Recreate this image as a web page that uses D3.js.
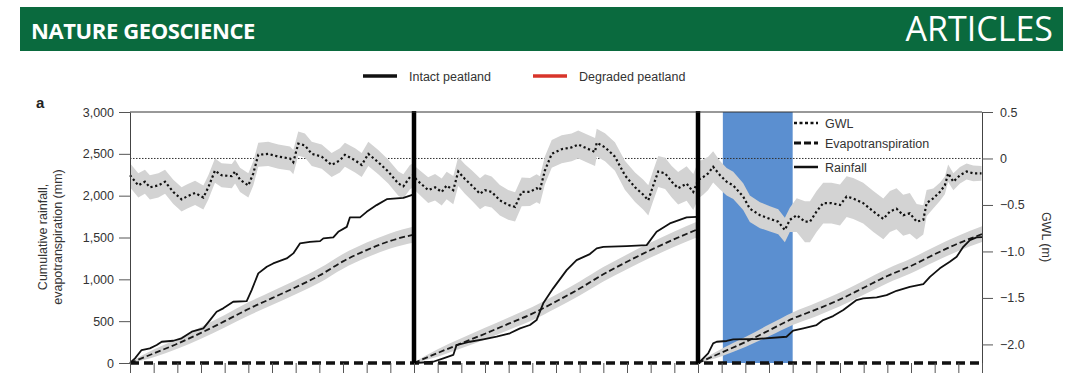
<!DOCTYPE html>
<html><head><meta charset="utf-8">
<script src="https://cdn.jsdelivr.net/npm/d3@7"></script>
<style>
html,body{margin:0;padding:0;background:#fff;}
svg{display:block;font-family:"Liberation Sans",Arial,sans-serif;}
</style></head>
<body><svg id="c" width="1080" height="382"></svg>
<script>
// ---------- DATA ----------
const monthTicks = d3.range(0, 37);
const yearBreaks = [12, 24];
const shadedPeriod = [25.05, 28.0];
const leftTicks = [0, 500, 1000, 1500, 2000, 2500, 3000];
const rightTicks = [0.5, 0, -0.5, -1.0, -1.5, -2.0];
const legendTop = ["Intact peatland", "Degraded peatland"];
const legendInner = ["GWL", "Evapotranspiration", "Rainfall"];

// groundwater level (m), [month, value]
const gwl = [
 [0.00,-0.18],[0.35,-0.29],[0.63,-0.25],[0.84,-0.31],[1.20,-0.29],[1.48,-0.25],[1.83,-0.36],[2.18,-0.44],
 [2.40,-0.41],[2.75,-0.37],[3.10,-0.42],[3.31,-0.31],[3.59,-0.13],[3.87,-0.18],[4.30,-0.19],[4.44,-0.14],
 [4.65,-0.23],[5.00,-0.29],[5.21,-0.16],[5.42,0.04],[5.84,0.05],[6.27,0.02],[6.76,0.00],[6.90,-0.04],
 [7.11,0.16],[7.39,0.14],[7.68,0.05],[8.10,0.02],[8.52,-0.07],[8.87,-0.02],[9.08,0.04],[9.51,-0.02],
 [9.79,-0.07],[10.07,0.05],[10.49,-0.04],[10.91,-0.14],[11.34,-0.27],[11.55,-0.30],[11.83,-0.20],[11.97,-0.18],
 [12.11,-0.23],[12.60,-0.34],[12.89,-0.31],[13.17,-0.36],[13.38,-0.29],[13.66,-0.34],[13.87,-0.14],[14.15,-0.22],
 [14.44,-0.29],[14.79,-0.38],[15.00,-0.34],[15.28,-0.36],[15.63,-0.45],[15.98,-0.50],[16.27,-0.52],[16.55,-0.36],
 [16.90,-0.36],[17.18,-0.32],[17.32,-0.34],[17.53,-0.13],[17.82,0.05],[18.24,0.10],[18.66,0.12],[18.94,0.15],
 [19.29,0.11],[19.65,0.07],[19.72,0.17],[20.07,0.12],[20.49,0.02],[20.91,-0.18],[21.34,-0.31],[21.69,-0.39],
 [21.90,-0.45],[22.11,-0.29],[22.32,-0.14],[22.61,-0.16],[22.89,-0.25],[23.16,-0.32],[23.52,-0.27],[23.80,-0.36],
 [24.01,-0.23],[24.22,-0.20],[24.43,-0.16],[24.64,-0.09],[24.93,-0.18],[25.21,-0.25],[25.49,-0.29],[25.91,-0.41],
 [26.19,-0.54],[26.62,-0.61],[27.04,-0.65],[27.39,-0.68],[27.67,-0.77],[27.88,-0.66],[28.17,-0.61],[28.52,-0.68],
 [28.73,-0.68],[29.01,-0.57],[29.29,-0.48],[29.64,-0.48],[30.00,-0.50],[30.28,-0.41],[30.56,-0.43],[30.98,-0.48],
 [31.41,-0.57],[31.83,-0.65],[32.11,-0.57],[32.39,-0.54],[32.67,-0.61],[32.95,-0.59],[33.24,-0.68],[33.52,-0.66],
 [33.66,-0.48],[33.94,-0.43],[34.22,-0.36],[34.43,-0.29],[34.57,-0.16],[34.79,-0.25],[35.07,-0.18],[35.35,-0.14],
 [35.63,-0.16],[35.98,-0.16]
];
// GWL uncertainty half-width (m) at breakpoints [month, value]
const gwlSpread = [[0,0.13],[12,0.13],[15,0.17],[17,0.15],[20,0.15],[23,0.17],[24,0.2],[25,0.15],[28,0.13],[28.3,0.22],[33,0.22],[34,0.1],[36,0.08]];

// cumulative rainfall (mm), [month, value], one array per year
const rain1 = [[0,0],[0.21,56],[0.49,155],[0.84,175],[1.13,215],[1.34,254],[1.83,266],[2.18,295],[2.61,374],[3.10,414],
 [3.38,513],[3.66,613],[3.94,653],[4.36,732],[4.93,740],[5.14,872],[5.42,1071],[5.78,1150],[6.05,1190],[6.62,1250],
 [6.90,1310],[7.18,1429],[7.60,1448],[8.03,1457],[8.17,1489],[8.59,1501],[8.80,1568],[9.16,1627],[9.29,1740],[9.72,1740],
 [10.00,1807],[10.42,1887],[10.85,1958],[11.55,1974],[11.90,2006],[11.97,2020]];
const rain2 = [[12.04,0],[12.81,15],[13.24,56],[13.66,96],[13.80,215],[14.36,254],[14.93,283],[15.49,314],[16.05,355],
 [16.48,414],[16.90,454],[17.18,513],[17.46,713],[17.88,892],[18.45,1110],[18.87,1230],[19.43,1302],[19.72,1370],
 [20.00,1389],[20.98,1397],[21.83,1409],[22.25,1568],[22.81,1668],[23.52,1740],[23.95,1747]];
const rain3 = [[24.04,0],[24.08,15],[24.43,116],[24.64,235],[24.79,254],[25.21,263],[25.49,283],[26.48,287],[27.74,314],
 [28.02,386],[28.45,414],[29.01,454],[29.29,513],[29.71,561],[30.14,633],[30.70,752],[30.98,772],[31.55,784],[31.97,812],
 [32.39,863],[32.95,911],[33.52,943],[33.80,1030],[34.22,1131],[34.64,1210],[34.93,1270],[35.21,1389],[35.49,1469],
 [35.77,1501],[36.0,1505]];

// cumulative evapotranspiration (mm), monthly, one array per year
const et1 = [0,115,230,360,500,645,775,905,1045,1215,1350,1460,1535];
const et2 = [0,120,235,350,470,590,735,890,1060,1210,1350,1480,1600];
const et3 = [0,125,250,390,530,640,760,900,1040,1160,1300,1430,1540];
// ET uncertainty half-width (mm) by month within a year
const etSpread = [10,45,60,70,75,80,82,84,86,88,90,92,95];

// zero line series (thick dashed)
const baseline = [[0,0],[36,0]];

// ---------- LAYOUT ----------
const svg = d3.select("#c");
const x = d3.scaleLinear().domain([0,36]).range([130,982]);
const yL = d3.scaleLinear().domain([0,3000]).range([363,112]);
const yR = d3.scaleLinear().domain([-2.2,0.5]).range([363,112]);
const spreadAt = d3.scaleLinear().domain(gwlSpread.map(d=>d[0])).range(gwlSpread.map(d=>d[1])).clamp(true);

// header
svg.append("rect").attr("x",20).attr("y",7).attr("width",1043).attr("height",44).attr("fill","#0a6a3e");
svg.append("text").attr("x",31).attr("y",39).attr("fill","#fff")
  .style("font-family","'Open Sans',sans-serif").style("font-weight","700").style("font-size","22px")
  .style("letter-spacing","-0.4px").text("NATURE GEOSCIENCE");
svg.append("text").attr("x",1053).attr("y",41).attr("fill","#fff").attr("text-anchor","end")
  .style("font-family","'Open Sans',sans-serif").style("font-size","34px").text("ARTICLES");

// top legend
const lg = svg.append("g");
[{c:"#111",x0:363,tx:409},{c:"#d8342a",x0:533,tx:579}].forEach((d,i)=>{
  lg.append("line").attr("x1",d.x0).attr("x2",d.x0+34).attr("y1",76).attr("y2",76).attr("stroke",d.c).attr("stroke-width",3.5);
  lg.append("text").attr("x",d.tx).attr("y",80.5).attr("fill","#333").style("font-size","12.5px").text(legendTop[i]);
});

svg.append("text").attr("x",36).attr("y",108).style("font-weight","700").style("font-size","15px").attr("fill","#222").text("a");

// shaded period
svg.append("rect").attr("x",x(shadedPeriod[0])).attr("y",112).attr("width",x(shadedPeriod[1])-x(shadedPeriod[0]))
  .attr("height",363-112).attr("fill","#5b8fd0");

// zero reference line
svg.append("line").attr("x1",130).attr("x2",982).attr("y1",yR(0)).attr("y2",yR(0))
  .attr("stroke","#333").attr("stroke-width",1).attr("stroke-dasharray","1.5,1.5");

// GWL band
const band = d3.area().x(d=>x(d[0])).y0(d=>yR(d[1]-spreadAt(d[0]))).y1(d=>yR(d[1]+spreadAt(d[0])));
svg.append("path").datum(gwl).attr("d",band).attr("fill","#d3d3d3");

// ET bands and lines
const etYears = [et1,et2,et3];
etYears.forEach((arr,yi)=>{
  const pts = arr.map((v,i)=>[yi*12+i, v, etSpread[i]]);
  svg.append("path").datum(pts).attr("fill","#d3d3d3")
    .attr("d", d3.area().x(d=>x(d[0])).y0(d=>yL(Math.max(0,d[1]-d[2]))).y1(d=>yL(d[1]+d[2])).curve(d3.curveMonotoneX));
});
etYears.forEach((arr,yi)=>{
  const pts = arr.map((v,i)=>[yi*12+i, v]);
  svg.append("path").datum(pts).attr("fill","none").attr("stroke","#1a1a1a").attr("stroke-width",1.8)
    .attr("stroke-dasharray","6,3")
    .attr("d", d3.line().x(d=>x(d[0])).y(d=>yL(d[1])).curve(d3.curveMonotoneX));
});

// rainfall
[rain1,rain2,rain3].forEach(arr=>{
  svg.append("path").datum(arr).attr("fill","none").attr("stroke","#111").attr("stroke-width",1.8)
    .attr("stroke-linejoin","round")
    .attr("d", d3.line().x(d=>x(d[0])).y(d=>yL(d[1])));
});

// GWL line
svg.append("path").datum(gwl).attr("fill","none").attr("stroke","#111").attr("stroke-width",2.2)
  .attr("stroke-dasharray","2.2,2.6")
  .attr("d", d3.line().x(d=>x(d[0])).y(d=>yR(d[1])));

// baseline thick dashed
svg.append("path").datum(baseline).attr("fill","none").attr("stroke","#111").attr("stroke-width",3.5)
  .attr("stroke-dasharray","9,5")
  .attr("d", d3.line().x(d=>x(d[0])).y(d=>yL(d[1])));

// year separators
yearBreaks.forEach(m=>{
  svg.append("line").attr("x1",x(m)).attr("x2",x(m)).attr("y1",111).attr("y2",364)
    .attr("stroke","#000").attr("stroke-width",4.5);
});

// frame top
svg.append("line").attr("x1",130).attr("x2",982).attr("y1",112).attr("y2",112).attr("stroke","#333").attr("stroke-width",1);

// axes
const axL = svg.append("g").attr("transform","translate(130,0)")
  .call(d3.axisLeft(yL).tickValues(leftTicks).tickFormat(d3.format(",")).tickSize(11).tickSizeOuter(0));
const axR = svg.append("g").attr("transform","translate(982,0)")
  .call(d3.axisRight(yR).tickValues(rightTicks).tickFormat(d=>d===0?"0":d3.format(".1f")(d)).tickSize(11).tickSizeOuter(0));
const axB = svg.append("g").attr("transform","translate(0,363)")
  .call(d3.axisBottom(x).tickValues(monthTicks).tickFormat("").tickSize(10));
axB.select(".domain").remove();
[axL,axR,axB].forEach(a=>{
  a.selectAll("line").attr("stroke","#555");
  a.select(".domain").attr("stroke","#444");
  a.selectAll("text").attr("fill","#333").style("font-size","12.5px").style("font-family","'Liberation Sans',Arial,sans-serif");
});
axL.selectAll("text").attr("x",-16);
axR.selectAll("text").attr("x",18);

// axis titles
svg.append("text").attr("transform","translate(47,237) rotate(-90)").attr("text-anchor","middle")
  .attr("fill","#333").style("font-size","12.5px").text("Cumulative rainfall,");
svg.append("text").attr("transform","translate(62,237) rotate(-90)").attr("text-anchor","middle")
  .attr("fill","#333").style("font-size","12.5px").text("evapotranspiration (mm)");
svg.append("text").attr("transform","translate(1042,237) rotate(90)").attr("text-anchor","middle")
  .attr("fill","#333").style("font-size","12.5px").text("GWL (m)");

// inner legend
const il = svg.append("g");
const styles = [{w:2.5,da:"3,2.5"},{w:3,da:"7,3"},{w:2.5,da:null}];
[123,143,167].forEach((yy,i)=>{
  const l = il.append("line").attr("x1",794).attr("x2",818).attr("y1",yy).attr("y2",yy).attr("stroke","#111").attr("stroke-width",styles[i].w);
  if(styles[i].da) l.attr("stroke-dasharray",styles[i].da);
  il.append("text").attr("x",825).attr("y",yy+4.5).attr("fill","#333").style("font-size","12.5px").text(legendInner[i]);
});
</script></body></html>
